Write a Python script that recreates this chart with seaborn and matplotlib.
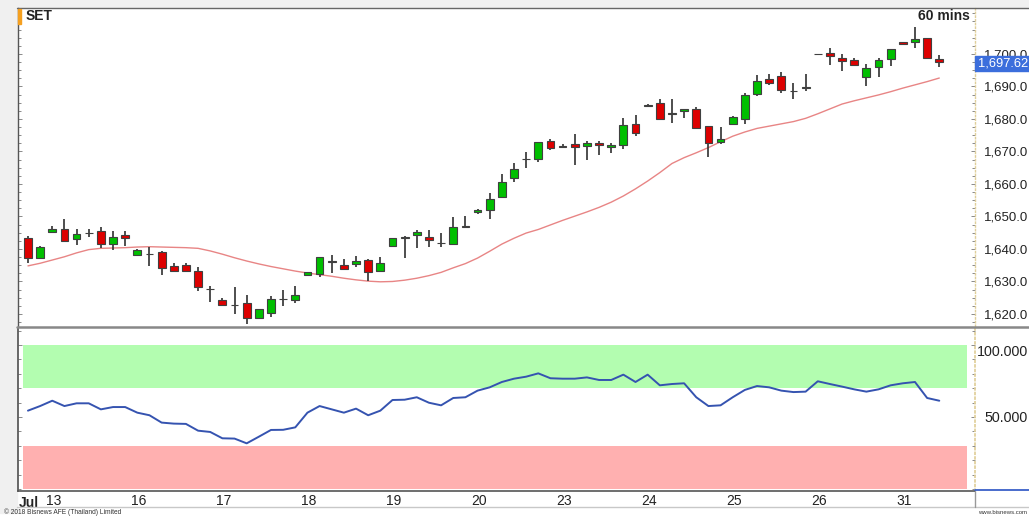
import numpy as np
import pandas as pd
import matplotlib
matplotlib.use("Agg")
import matplotlib.pyplot as plt
import seaborn as sns
from matplotlib.patches import Rectangle
from matplotlib.lines import Line2D
from matplotlib.ticker import MultipleLocator, FixedLocator

# ---------------- data ----------------
opens = [1643.4, 1637.1, 1645.3, 1646.1, 1643.1, 1644.8, 1645.6, 1641.5, 1644.3, 1638.2,
         1638.5, 1639.2, 1634.9, 1635.0, 1633.2, 1627.6, 1624.4, 1622.9, 1623.3, 1618.9,
         1620.2, 1624.6, 1624.2, 1632.0, 1632.2, 1636.3, 1635.1, 1635.3, 1636.6, 1633.2,
         1640.9, 1643.3, 1644.2, 1643.6, 1641.9, 1641.4, 1647.2, 1651.3, 1652.0, 1656.1,
         1661.8, 1667.7, 1667.6, 1673.2, 1671.8, 1672.3, 1671.7, 1672.7, 1671.4, 1672.0,
         1678.6, 1684.0, 1684.8, 1681.6, 1682.5, 1683.0, 1677.7, 1673.0, 1678.4, 1679.9,
         1687.8, 1692.3, 1693.3, 1688.6, 1689.5, 1700.0, 1700.4, 1698.9, 1698.2, 1693.0,
         1696.1, 1698.4, 1703.6, 1703.8, 1704.8, 1698.4]
highs = [1644.0, 1640.9, 1647.1, 1649.2, 1646.1, 1646.1, 1646.7, 1645.5, 1645.4, 1640.0,
         1640.5, 1639.4, 1635.6, 1635.8, 1634.6, 1628.6, 1625.0, 1628.2, 1625.8, 1621.6,
         1625.4, 1627.4, 1628.6, 1633.0, 1637.6, 1638.2, 1636.8, 1637.8, 1636.8, 1637.4,
         1643.5, 1644.0, 1645.8, 1645.8, 1645.0, 1649.9, 1650.2, 1652.2, 1657.1, 1663.1,
         1666.4, 1669.9, 1673.0, 1673.8, 1672.2, 1675.3, 1673.3, 1673.3, 1672.5, 1680.4,
         1681.1, 1684.7, 1686.2, 1686.1, 1683.2, 1683.8, 1677.8, 1677.6, 1680.9, 1688.1,
         1693.5, 1693.8, 1694.5, 1691.2, 1693.8, 1700.0, 1701.8, 1699.9, 1698.7, 1696.8,
         1698.7, 1701.5, 1703.7, 1708.4, 1705.0, 1699.7]
lows = [1635.7, 1636.9, 1645.3, 1642.5, 1641.2, 1643.8, 1640.2, 1639.7, 1641.0, 1638.0,
        1634.9, 1631.9, 1633.2, 1633.0, 1627.2, 1623.8, 1622.9, 1620.0, 1616.9, 1618.5,
        1619.2, 1622.5, 1623.3, 1631.8, 1631.3, 1632.5, 1633.8, 1634.6, 1630.2, 1632.9,
        1640.5, 1637.3, 1640.2, 1640.5, 1640.5, 1641.2, 1646.4, 1650.7, 1649.1, 1656.0,
        1660.7, 1664.8, 1666.9, 1670.5, 1671.3, 1665.8, 1667.4, 1668.9, 1669.4, 1670.7,
        1674.8, 1684.0, 1680.0, 1678.9, 1680.2, 1677.3, 1668.4, 1672.3, 1678.2, 1678.5,
        1687.1, 1690.6, 1688.1, 1686.2, 1688.7, 1700.0, 1696.6, 1694.9, 1696.6, 1690.0,
        1692.8, 1696.4, 1703.0, 1701.8, 1698.7, 1696.1]
closes = [1637.2, 1640.7, 1646.1, 1642.5, 1644.6, 1644.8, 1641.4, 1643.7, 1643.5, 1639.8,
          1638.5, 1634.1, 1633.2, 1633.2, 1628.2, 1627.6, 1622.9, 1622.9, 1618.9, 1621.4,
          1624.6, 1624.6, 1625.8, 1632.8, 1637.5, 1635.9, 1633.8, 1636.3, 1633.0, 1635.6,
          1643.3, 1643.8, 1645.1, 1642.8, 1641.9, 1646.7, 1646.7, 1652.0, 1655.4, 1660.7,
          1664.5, 1667.7, 1672.8, 1671.0, 1671.3, 1671.3, 1672.5, 1672.0, 1672.0, 1678.1,
          1675.6, 1684.3, 1680.0, 1681.8, 1683.0, 1677.3, 1672.5, 1673.8, 1680.5, 1687.5,
          1691.6, 1691.0, 1688.9, 1688.6, 1689.8, 1700.0, 1699.3, 1697.8, 1696.6, 1695.6,
          1698.1, 1701.4, 1703.1, 1704.6, 1698.9, 1697.62]
moving_avg = [1634.8, 1635.6, 1636.6, 1637.6, 1638.8, 1639.8, 1640.2, 1640.3, 1640.4, 1640.6,
              1640.7, 1640.6, 1640.5, 1640.4, 1640.2, 1639.4, 1638.4, 1637.3, 1636.3, 1635.4,
              1634.6, 1633.9, 1633.2, 1632.6, 1632.1, 1631.6, 1631.0, 1630.5, 1630.1, 1629.9,
              1630.0, 1630.4, 1631.0, 1631.8, 1632.8, 1634.2, 1635.5, 1637.2, 1639.3, 1641.5,
              1643.3, 1644.9, 1646.0, 1647.4, 1648.8, 1650.1, 1651.4, 1652.8, 1654.4, 1656.3,
              1658.5, 1660.9, 1663.5, 1666.3, 1668.1, 1669.6, 1671.2, 1673.0, 1674.7, 1676.0,
              1677.1, 1677.8, 1678.5, 1679.2, 1680.2, 1681.6, 1683.1, 1684.6, 1685.6, 1686.5,
              1687.4, 1688.4, 1689.5, 1690.5, 1691.5, 1692.6]
rsi = [54.4, 57.6, 61.3, 57.6, 59.5, 59.5, 55.3, 56.9, 56.9, 53.0,
       51.2, 46.1, 45.4, 45.2, 40.5, 39.6, 35.2, 35.0, 31.7, 36.3,
       41.0, 41.1, 42.8, 53.0, 57.6, 55.3, 53.0, 55.8, 51.2, 54.4,
       61.8, 62.0, 63.7, 59.9, 58.1, 63.2, 63.7, 68.3, 70.6, 74.3,
       76.6, 78.0, 80.3, 76.9, 76.6, 76.6, 77.5, 75.7, 75.7, 79.4,
       74.3, 79.4, 72.0, 72.9, 73.4, 63.7, 57.6, 58.1, 63.7, 68.8,
       71.5, 70.6, 68.3, 67.3, 67.6, 74.8, 72.9, 71.1, 69.2, 67.6,
       69.2, 72.0, 73.4, 74.3, 63.2, 61.3]
day_labels = ["13", "16", "17", "18", "19", "20", "23", "24", "25", "26", "31"]
day_first_bar = [2, 9, 16, 23, 30, 37, 44, 51, 58, 65, 72]
price_ticks = [1620, 1630, 1640, 1650, 1660, 1670, 1680, 1690, 1700]
rsi_ticks = [50, 100]

# ---------------- style ----------------
sns.set_theme(style="white")
plt.rcParams["font.family"] = ["Liberation Sans", "DejaVu Sans"]

W, H = 1029, 517
fig = plt.figure(figsize=(W / 100, H / 100), dpi=100)
fig.patch.set_facecolor("white")


def fx(px):
    return px / W


def fy(py):
    return 1 - py / H


# grey margins
fig.add_artist(Rectangle((0, fy(513)), fx(17), fy(0) - fy(513), transform=fig.transFigure,
                         color="#f0f0f0", zorder=0))
fig.add_artist(Rectangle((0, fy(8)), 1, fy(0) - fy(8), transform=fig.transFigure,
                         color="#f0f0f0", zorder=0))

df = pd.DataFrame({"idx": np.arange(len(closes)), "open": opens, "high": highs,
                   "low": lows, "close": closes, "ma": moving_avg, "rsi": rsi})

XL = (-0.82, 77.94)
LABEL_PAD = (1028 - 975) * 0.72  # points: right-aligned labels end at the figure edge

# ---------------- price panel ----------------
ax1 = fig.add_axes([fx(18), fy(326), fx(975) - fx(18), fy(8) - fy(326)])
ax1.set_facecolor("white")
up = df["close"] >= df["open"]
body_lo = np.minimum(df["open"], df["close"])
body_h = (df["close"] - df["open"]).abs()
cols = np.where(up, "#00bf00", "#dd0000")
ax1.vlines(df["idx"], df["low"], df["high"], color="#303030", lw=1.2, zorder=2)
ax1.bar(df["idx"], body_h, bottom=body_lo, width=0.64, color=cols,
        edgecolor="#404040", linewidth=0.8, zorder=3)
sns.lineplot(data=df, x="idx", y="ma", ax=ax1, color="#e88585", lw=1.0, zorder=1)
ax1.set_xlim(*XL)
ax1.set_ylim(1616.3, 1714.15)
ax1.set_xticks([])
ax1.set_xlabel("")
ax1.set_ylabel("")
ax1.yaxis.set_major_locator(FixedLocator(price_ticks))
ax1.set_yticklabels([f"{v:,.1f}" for v in price_ticks])
ax1.yaxis.set_minor_locator(MultipleLocator(2.5))
ax1.tick_params(axis="y", which="both", left=True, right=True, labelleft=False,
                labelright=True, direction="in", length=3, width=0.6, color="#777",
                labelsize=9.5, labelcolor="#222", pad=LABEL_PAD)
ax1.tick_params(axis="y", which="minor", length=2)
for lab in ax1.get_yticklabels():
    lab.set_horizontalalignment("right")
for s in ["top", "bottom"]:
    ax1.spines[s].set_visible(False)
ax1.spines["left"].set_color("#555")
ax1.spines["left"].set_linewidth(1)
ax1.spines["right"].set_color("#e0cf9a")
ax1.spines["right"].set_linestyle(":")
ax1.spines["right"].set_linewidth(1)

# ---------------- RSI panel ----------------
ax2 = fig.add_axes([fx(18), fy(491), fx(975) - fx(18), fy(328) - fy(491)])
ax2.set_facecolor("white")
ax2.axhspan(70, 100, xmin=0.005, xmax=0.992, color="#b3fdb0", lw=0, zorder=0)
ax2.axhspan(0, 30, xmin=0.005, xmax=0.992, color="#ffb0b0", lw=0, zorder=0)
sns.lineplot(data=df, x="idx", y="rsi", ax=ax2, color="#3553b0", lw=1.4, zorder=3)
ax2.set_xlim(*XL)
ax2.set_ylim(-1.4, 111.8)
ax2.set_xlabel("")
ax2.set_ylabel("")
ax2.set_xticks([d - 0.5 for d in day_first_bar])
ax2.set_xticklabels(day_labels, ha="left")
ax2.tick_params(axis="x", length=0, labelsize=10, labelcolor="#222", pad=2)
ax2.yaxis.set_major_locator(FixedLocator(rsi_ticks))
ax2.set_yticklabels([f"{v:.3f}" for v in rsi_ticks])
ax2.yaxis.set_minor_locator(MultipleLocator(10))
ax2.tick_params(axis="y", which="both", left=True, right=True, labelleft=False,
                labelright=True, direction="in", length=3, width=0.6, color="#777",
                labelsize=10.3, labelcolor="#222", pad=LABEL_PAD)
ax2.tick_params(axis="y", which="minor", length=2)
for lab in ax2.get_yticklabels():
    lab.set_horizontalalignment("right")
    if lab.get_text().startswith("100"):
        lab.set_verticalalignment("top")
ax2.spines["top"].set_visible(False)
ax2.spines["left"].set_color("#555")
ax2.spines["bottom"].set_color("#555")
ax2.spines["bottom"].set_linewidth(1.2)
ax2.spines["right"].set_color("#e0cf9a")
ax2.spines["right"].set_linestyle(":")
ax2.text(-0.74, -0.03, "Jul", transform=ax2.get_xaxis_transform(), ha="left", va="top",
         fontsize=10, fontweight="bold", color="#222")

# ---------------- frame lines ----------------
def hline(y, x0, x1, color, lw):
    fig.add_artist(Line2D([fx(x0), fx(x1)], [fy(y), fy(y)], transform=fig.transFigure,
                          color=color, lw=lw, zorder=5))


def vline(x, y0, y1, color, lw):
    fig.add_artist(Line2D([fx(x), fx(x)], [fy(y0), fy(y1)], transform=fig.transFigure,
                          color=color, lw=lw, zorder=5))


hline(8, 17, 1029, "#666", 1.0)
hline(326.5, 17, 1029, "#888", 1.8)
hline(507, 17, 1029, "#c8c8c8", 1.0)
hline(490, 975, 1029, "#3a60c8", 1.3)
vline(975, 491, 507, "#999", 1.0)

# ---------------- texts ----------------
fig.add_artist(Rectangle((fx(18), fy(24)), fx(3), fy(9) - fy(24), transform=fig.transFigure,
                         color="#f5a020", zorder=6))
fig.text(fx(26), fy(16), "SET", ha="left", va="center", fontsize=10, fontweight="bold",
         color="#222")
fig.text(fx(970), fy(16), "60 mins", ha="right", va="center", fontsize=10,
         fontweight="bold", color="#222")
fig.add_artist(Rectangle((fx(975), fy(71)), fx(1029) - fx(975), fy(56) - fy(71),
                         transform=fig.transFigure, color="#3c6edc", zorder=6))
fig.text(fx(1028), fy(63.5), f"{closes[-1]:,.2f}", ha="right", va="center", fontsize=9.3,
         color="white", zorder=7)
fig.text(fx(4), fy(512), "© 2018 Bisnews AFE (Thailand) Limited", ha="left", va="center",
         fontsize=4.8, color="#333")
fig.text(fx(1027), fy(513), "www.bisnews.com", ha="right", va="center", fontsize=4.3,
         color="#333")

fig.savefig("out.png", dpi=100, facecolor=fig.get_facecolor())
